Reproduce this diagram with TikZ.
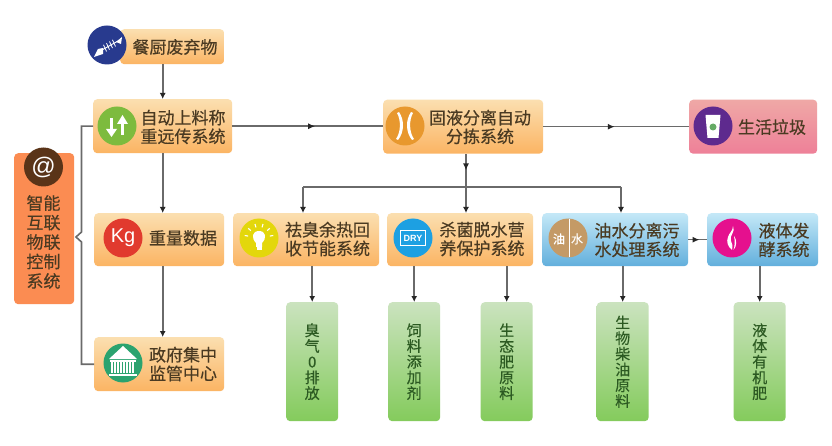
\documentclass[tikz,border=0pt]{standalone}
\usepackage{fontspec}
\setmainfont{Noto Sans CJK SC}[FakeBold=0.35]
\newfontfamily\latinbold{Liberation Sans}[BoldFont={Liberation Sans Bold}]
\usetikzlibrary{arrows.meta,decorations.markings}
\definecolor{txt}{HTML}{4A3A22}
\definecolor{lineg}{HTML}{6A6A6A}
\definecolor{orT}{HTML}{FBDFB0}\definecolor{orB}{HTML}{FBB463}
\definecolor{blT}{HTML}{C4E8F7}\definecolor{blB}{HTML}{62AFDC}
\definecolor{rdT}{HTML}{EFA8A6}\definecolor{rdB}{HTML}{EE8098}
\definecolor{grT}{HTML}{CBE3BF}\definecolor{grB}{HTML}{84CB5C}
\definecolor{iotc}{HTML}{FB8C52}
\definecolor{cfish}{HTML}{283A8E}\definecolor{carrow}{HTML}{7DBB3E}
\definecolor{csep}{HTML}{E8982E}\definecolor{ccup}{HTML}{5E2A8E}
\definecolor{ckg}{HTML}{E13A2E}\definecolor{cgov}{HTML}{2BA36F}
\definecolor{cbulb}{HTML}{E3D70B}\definecolor{cdry}{HTML}{1DA0E2}
\definecolor{coil}{HTML}{C49A66}\definecolor{cflame}{HTML}{E5108E}
\definecolor{cat}{HTML}{5A3418}\definecolor{vtxt}{HTML}{2C5A22}
\tikzset{
  x=1pt,y=-1pt,
  boxbase/.style={rounded corners=4pt,inner sep=0pt,anchor=north west},
  obox/.style={boxbase,top color=orT,bottom color=orB},
  bbox/.style={boxbase,top color=blT,bottom color=blB},
  rbox/.style={boxbase,top color=rdT,bottom color=rdB},
  gbox/.style={boxbase,top color=grT,bottom color=grB,minimum width=52pt,minimum height=119pt},
  conn/.style={draw=lineg,line width=1.6pt,-{Latex[length=6pt,width=6pt,color=black!85]}},
  plain/.style={draw=lineg,line width=1.6pt},
  midarrow/.style={draw=lineg,line width=1.6pt,postaction={decorate},decoration={markings,mark=at position #1 with {\arrow{Latex[length=7pt,width=6pt,color=black!85]}}}},
  lbl/.style={text=txt,font=\fontsize{17}{18.7}\selectfont,align=center,inner sep=0pt},
  vlbl/.style={text=vtxt,font=\fontsize{15}{15.7}\selectfont,align=center,inner sep=0pt},
  disc/.style={circle,minimum size=39pt,inner sep=0pt,fill=#1},
}
\begin{document}
\begin{tikzpicture}
\useasboundingbox (0,0) rectangle (832,446);
\fill[white] (0,0) rectangle (832,446);
% boxes
\node[obox,minimum width=104pt,minimum height=35pt] (food) at (120,29) {};
\node[obox,minimum width=139pt,minimum height=54pt] (feed) at (93,99) {};
\node[obox,minimum width=160pt,minimum height=54pt] (sep) at (383,99.5) {};
\node[rbox,minimum width=128pt,minimum height=54pt] (waste) at (689,99.5) {};
\node[obox,minimum width=130pt,minimum height=53pt] (kg) at (94,213) {};
\node[obox,minimum width=146pt,minimum height=53pt] (heat) at (233,213) {};
\node[obox,minimum width=146pt,minimum height=53pt] (dry) at (387,213) {};
\node[bbox,minimum width=146pt,minimum height=53pt] (oil) at (542,213) {};
\node[bbox,minimum width=111pt,minimum height=53pt] (ferm) at (707,213) {};
\node[obox,minimum width=130pt,minimum height=54pt] (gov) at (94,337) {};
\node[boxbase,fill=iotc,minimum width=60pt,minimum height=151pt] (iot) at (14,153) {};
\node[gbox] (g1) at (286,302) {};
\node[gbox] (g2) at (388,302) {};
\node[gbox] (g3) at (480.5,302) {};
\node[gbox] (g4) at (596.5,302) {};
\node[gbox] (g5) at (733.5,302) {};
% junctions
\coordinate (hub) at (466,187);
\coordinate (hubL) at (303,187);
\coordinate (hubR) at (621,187);
\coordinate (tick) at (76,237);
\coordinate (railA) at (81.5,232);
\coordinate (railB) at (81.5,242);
% connectors
\draw[conn] (food.south -| feed.north) -- (feed.north);
\draw[conn] (feed.south) -- (feed.south |- kg.north);
\draw[conn] (feed.south |- kg.south) -- (feed.south |- gov.north);
\draw[midarrow=.55] (feed.east) -- (feed.east -| sep.west);
\draw[midarrow=.49] (sep.east) -- (waste.west);
\draw[midarrow=.5] (hub |- sep.south) -- (hub);
\draw[conn] (hub) -- (hub |- dry.north);
\draw[plain] (hubL) -- (hubR);
\draw[conn] (hubL) -- (hubL |- heat.north);
\draw[conn] (hubR) -- (hubR |- oil.north);
\draw[midarrow=.6] (oil.east) -- (ferm.west);
\draw[plain] (feed.west) -| (railA) -- (tick) -- (railB) |- (gov.west);
\draw[conn] (heat.south -| g1.north) -- (g1.north);
\draw[conn] (dry.south -| g2.north) -- (g2.north);
\draw[conn] (dry.south -| g3.north) -- (g3.north);
\draw[conn] (oil.south -| g4.north) -- (g4.north);
\draw[conn] (ferm.south -| g5.north) -- (g5.north);
% labels
\node[lbl] (tfood) at (175,47) {餐厨废弃物};
\node[lbl] (tfeed) at (183,127) {自动上料称\\重远传系统};
\node[lbl] (tsep) at (480,127) {固液分离自动\\分拣系统};
\node[lbl] (twaste) at (772,127) {生活垃圾};
\node[lbl] (tkg) at (183,238) {重量数据};
\node[lbl] (theat) at (327.5,239) {祛臭余热回\\收节能系统};
\node[lbl] (tdry) at (482,239) {杀菌脱水营\\养保护系统};
\node[lbl] (toil) at (637,240) {油水分离污\\水处理系统};
\node[lbl] (tferm) at (784,240) {液体发\\酵系统};
\node[lbl] (tgov) at (183,364) {政府集中\\监管中心};
\node[lbl,font=\fontsize{17}{19.5}\selectfont] (tiot) at (43.5,242) {智能\\互联\\物联\\控制\\系统};
\node[vlbl] (v1) at (g1.center) {臭\\气\\0\\排\\放};
\node[vlbl] (v2) at (g2.center) {饲\\料\\添\\加\\剂};
\node[vlbl] (v3) at (g3.center) {生\\态\\肥\\原\\料};
\node[vlbl] (v4) at (g4.center) {生\\物\\柴\\油\\原\\料};
\node[vlbl] (v5) at (g5.center) {液\\体\\有\\机\\肥};
% icon discs
\node[disc=cfish] (d1) at (107,45) {};
\begin{scope}[shift={(d1.center)},white]
  \fill (-13,12) -- (-9,4) -- (-4,3) -- (-4,9) -- cycle;
  \draw[line width=.9pt] (-5,5) -- (11,-4);
  \foreach \t in {-2,1,4,7}{\draw[line width=.8pt] (\t-1.5,{2-0.55*\t-3.3}) -- (\t+1.5,{2-0.55*\t+3.3});}
  \fill (9,-3) -- (15,-8) -- (14,-1) -- cycle;
\end{scope}
\node[disc=carrow] (d2) at (117,126) {};
\begin{scope}[shift={(d2.center)},white]
  \fill (-7,-8) rectangle (-4,3); \fill (-11,3) -- (0,3) -- (-5.5,11) -- cycle;
  \fill (4,-2) rectangle (7,9); \fill (0,-2) -- (11,-2) -- (5.5,-11) -- cycle;
\end{scope}
\node[disc=csep] (d3) at (405,126) {};
\begin{scope}[shift={(d3.center)}]
  \fill[white] (-8,-13) .. controls (-4,-6) and (-4,6) .. (-9,13) -- (-7,14) .. controls (-0.5,6) and (-0.5,-6) .. (-6,-14) -- cycle;
  \fill[white] (8,-13) .. controls (4,-6) and (4,6) .. (9,13) -- (7,14) .. controls (0.5,6) and (0.5,-6) .. (6,-14) -- cycle;
\end{scope}
\node[disc=ccup] (d4) at (713,126) {};
\begin{scope}[shift={(d4.center)}]
  \fill[white] (-7.5,-11) -- (7.5,-11) -- (5.5,12) -- (-5.5,12) -- cycle;
  \fill[green!45!black!60] (0,1) circle (3.5);
\end{scope}
\node[disc=ckg,text=white,font=\latinbold\fontsize{20}{20}\selectfont] (d5) at (123,238) {Kg};
\node[disc=cgov] (d6) at (123,363) {};
\begin{scope}[shift={(d6.center)},white]
  \fill (0,-17) -- (14,-4) -- (-14,-4) -- cycle;
  \fill (-13,-3) rectangle (13,-1.5);
  \foreach \c in {-12,-9,-6,-3,0,3,6,9}{\fill (\c,-1) rectangle (\c+2,10);}
  \fill (-14,10.5) rectangle (14,12.5);
\end{scope}
\node[disc=cbulb] (d7) at (259,238) {};
\begin{scope}[shift={(d7.center)},white]
  \fill (0,-7) .. controls (7,-7) and (8,0) .. (3,5) -- (3,9) -- (-3,9) -- (-3,5) .. controls (-8,0) and (-7,-7) .. (0,-7) -- cycle;
  \fill (-2.5,9.5) rectangle (2.5,12.5);
  \foreach \a in {190,222,254,286,318,350}{\draw[line width=1.1pt] (\a:11) -- (\a:14.5);}
\end{scope}
\node[disc=cdry] (d8) at (413,238) {};
\begin{scope}[shift={(d8.center)}]
  \node[draw=white,line width=1pt,minimum width=25pt,minimum height=15pt,inner sep=0pt,text=white,font=\latinbold\bfseries\fontsize{9}{9}\selectfont] (dryt) at (0,0) {DRY};
\end{scope}
\node[disc=coil] (d9) at (568,238) {};
\begin{scope}[shift={(d9.center)}]
  \draw[white,line width=.7pt] (1,-19) -- (1,19);
  \node[text=white,font=\fontsize{12}{12}\selectfont,inner sep=0pt] (you) at (-9,1) {油};
  \node[text=white,font=\fontsize{12}{12}\selectfont,inner sep=0pt] (shui) at (9,1) {水};
\end{scope}
\node[disc=cflame] (d10) at (732,238) {};
\begin{scope}[shift={(d10.center)}]
  \fill[white] (1,-12) .. controls (4,-6) and (-3,-3) .. (-1,3) .. controls (0,5) and (1,8) .. (0,12) .. controls (-4,9) and (-6,4) .. (-4,-1) .. controls (-3,-5) and (1,-7) .. (1,-12) -- cycle;
  \fill[white] (2,-2) .. controls (5,2) and (5,8) .. (1.5,12) .. controls (3,7) and (3,3) .. (2,-2) -- cycle;
\end{scope}
\node[disc=cat,text=white,font=\latinbold\fontsize{24}{24}\selectfont] (d11) at (43.5,167) {@};
\end{tikzpicture}
\end{document}
